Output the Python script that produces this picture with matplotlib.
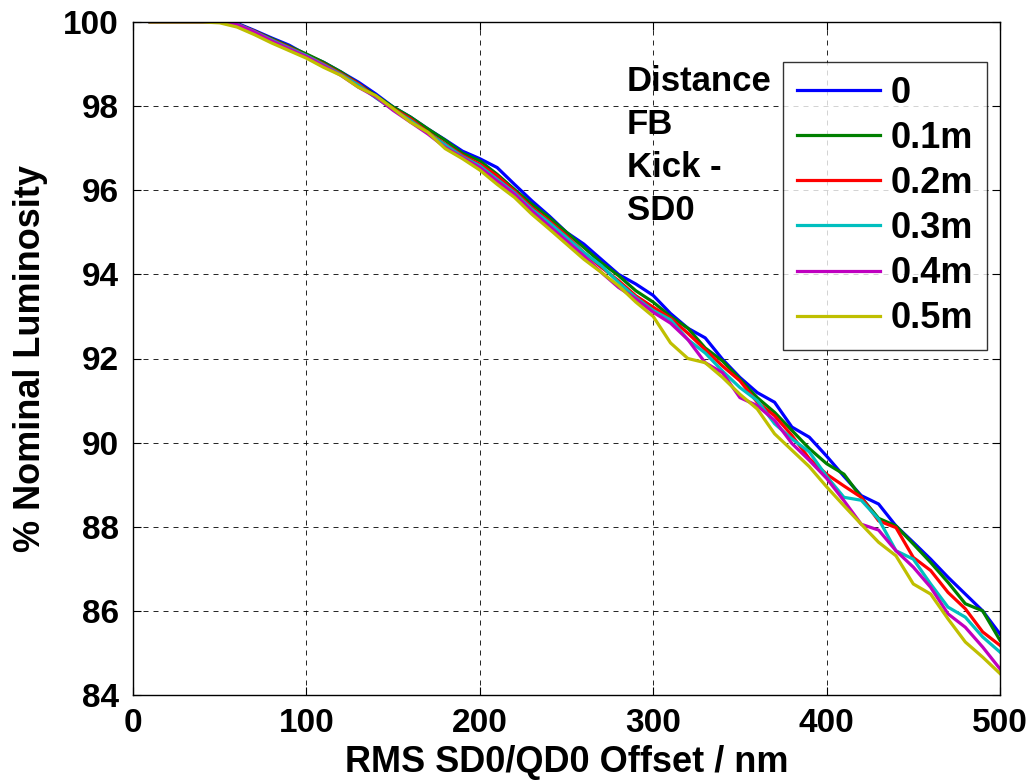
import matplotlib
matplotlib.use("Agg")
import matplotlib.pyplot as plt

offset_nm = [10, 20, 30, 40, 50, 60, 70, 80, 90, 100,
             110, 120, 130, 140, 150, 160, 170, 180, 190, 200,
             210, 220, 230, 240, 250, 260, 270, 280, 290, 300,
             310, 320, 330, 340, 350, 360, 370, 380, 390, 400,
             410, 420, 430, 440, 450, 460, 470, 480, 490, 500]

lumi_0 = [100, 100, 100, 100, 100, 99.97, 99.80, 99.62, 99.45, 99.22,
          99.04, 98.81, 98.57, 98.29, 97.98, 97.74, 97.46, 97.20, 96.93, 96.75,
          96.54, 96.14, 95.75, 95.39, 95.00, 94.72, 94.36, 94.00, 93.77, 93.50,
          93.07, 92.72, 92.49, 91.98, 91.55, 91.19, 90.96, 90.37, 90.13, 89.68,
          89.20, 88.74, 88.54, 88.02, 87.63, 87.23, 86.80, 86.40, 86.00, 85.45]

lumi_01 = [100, 100, 100, 100, 100, 99.95, 99.78, 99.60, 99.42, 99.24,
           99.04, 98.81, 98.53, 98.25, 97.98, 97.74, 97.46, 97.19, 96.88, 96.70,
           96.38, 96.02, 95.67, 95.35, 95.00, 94.64, 94.28, 93.97, 93.61, 93.34,
           93.00, 92.72, 92.25, 91.94, 91.51, 91.07, 90.72, 90.29, 89.86, 89.50,
           89.25, 88.70, 88.20, 88.02, 87.59, 87.15, 86.68, 86.17, 86.00, 85.30]

lumi_02 = [100, 100, 100, 100, 100, 99.95, 99.78, 99.58, 99.40, 99.20,
           99.00, 98.77, 98.53, 98.21, 97.94, 97.70, 97.38, 97.10, 96.83, 96.62,
           96.34, 95.98, 95.59, 95.27, 94.92, 94.52, 94.17, 93.85, 93.49, 93.22,
           92.96, 92.60, 92.21, 91.82, 91.47, 90.96, 90.64, 90.17, 89.62, 89.25,
           88.97, 88.70, 88.14, 87.98, 87.27, 86.96, 86.44, 86.05, 85.50, 85.18]

lumi_03 = [100, 100, 100, 100, 100, 99.95, 99.77, 99.57, 99.38, 99.20,
           98.98, 98.75, 98.50, 98.20, 97.92, 97.66, 97.36, 97.08, 96.80, 96.58,
           96.26, 95.94, 95.55, 95.23, 94.88, 94.52, 94.21, 93.81, 93.45, 93.14,
           92.92, 92.45, 92.13, 91.70, 91.31, 91.00, 90.45, 90.09, 89.78, 89.20,
           88.70, 88.63, 88.18, 87.43, 87.23, 86.64, 86.09, 85.85, 85.38, 85.02]

lumi_04 = [100, 100, 100, 100, 100, 99.94, 99.76, 99.55, 99.36, 99.18,
           98.96, 98.73, 98.45, 98.22, 97.90, 97.62, 97.34, 97.02, 96.78, 96.54,
           96.22, 95.91, 95.51, 95.15, 94.80, 94.44, 94.05, 93.69, 93.42, 93.10,
           92.84, 92.45, 91.90, 91.66, 91.07, 90.88, 90.53, 89.98, 89.58, 89.15,
           88.62, 88.06, 87.92, 87.43, 87.04, 86.56, 85.93, 85.61, 85.14, 84.62]

lumi_05 = [100, 100, 100, 100, 99.98, 99.88, 99.70, 99.50, 99.32, 99.14,
           98.92, 98.73, 98.45, 98.25, 97.94, 97.62, 97.38, 96.99, 96.75, 96.48,
           96.14, 95.83, 95.43, 95.08, 94.72, 94.36, 94.05, 93.73, 93.34, 93.00,
           92.37, 92.00, 91.90, 91.55, 91.15, 90.80, 90.21, 89.82, 89.43, 88.95,
           88.50, 88.06, 87.63, 87.31, 86.64, 86.40, 85.81, 85.26, 84.90, 84.51]

series_labels = ["0", "0.1m", "0.2m", "0.3m", "0.4m", "0.5m"]
series_values = [lumi_0, lumi_01, lumi_02, lumi_03, lumi_04, lumi_05]
series_colors = ["#0000ff", "#008000", "#ff0000", "#00bfbf", "#bf00bf", "#bfbf00"]

x_ticks = [0, 100, 200, 300, 400, 500]
y_ticks = [84, 86, 88, 90, 92, 94, 96, 98, 100]

plt.rcParams['font.family'] = ['Liberation Sans', 'DejaVu Sans']
plt.rcParams['font.weight'] = 'bold'

fig = plt.figure(figsize=(10.32, 7.8), dpi=100)
ax = fig.add_axes([133/1032, 1 - 695/780, (1000 - 133)/1032, (695 - 22)/780])

for vals, lab, col in zip(series_values, series_labels, series_colors):
    ax.plot(offset_nm, vals, color=col, linewidth=2.3, label=lab)

ax.set_xlim(0, 500)
ax.set_ylim(84, 100)
ax.set_xticks(x_ticks)
ax.set_yticks(y_ticks)
ax.tick_params(direction='in', length=6, width=0.8, labelsize=24, top=True, right=True)
ax.tick_params(axis='y', pad=10)
ax.tick_params(axis='x', pad=9)
for lbl in ax.get_xticklabels() + ax.get_yticklabels():
    lbl.set_fontweight('bold')
ax.grid(True, color='black', linestyle=(0, (6, 6)), linewidth=0.6)
for sp in ax.spines.values():
    sp.set_linewidth(1.0)
    sp.set_color('black')

ax.set_xlabel("RMS SD0/QD0 Offset / nm", fontsize=26, fontweight='bold', labelpad=5)
ax.set_ylabel("% Nominal Luminosity", fontsize=26, fontweight='bold', labelpad=11)

leg = ax.legend(loc='upper right', bbox_to_anchor=(987/1032, 1 - 62/780), bbox_transform=fig.transFigure,
                fontsize=26, frameon=True, fancybox=False, handlelength=2.3, handletextpad=0.3,
                labelspacing=0.28, borderpad=0.38, borderaxespad=0)
leg.get_frame().set_edgecolor('black')
leg.get_frame().set_linewidth(1.0)
for t in leg.get_texts():
    t.set_fontweight('bold')

fig.text(627/1032, 1 - 65/780, "Distance\nFB\nKick -\nSD0", fontsize=25, fontweight='bold',
         ha='left', va='top', linespacing=1.38)

fig.savefig("out.png", dpi=100, facecolor='white')
